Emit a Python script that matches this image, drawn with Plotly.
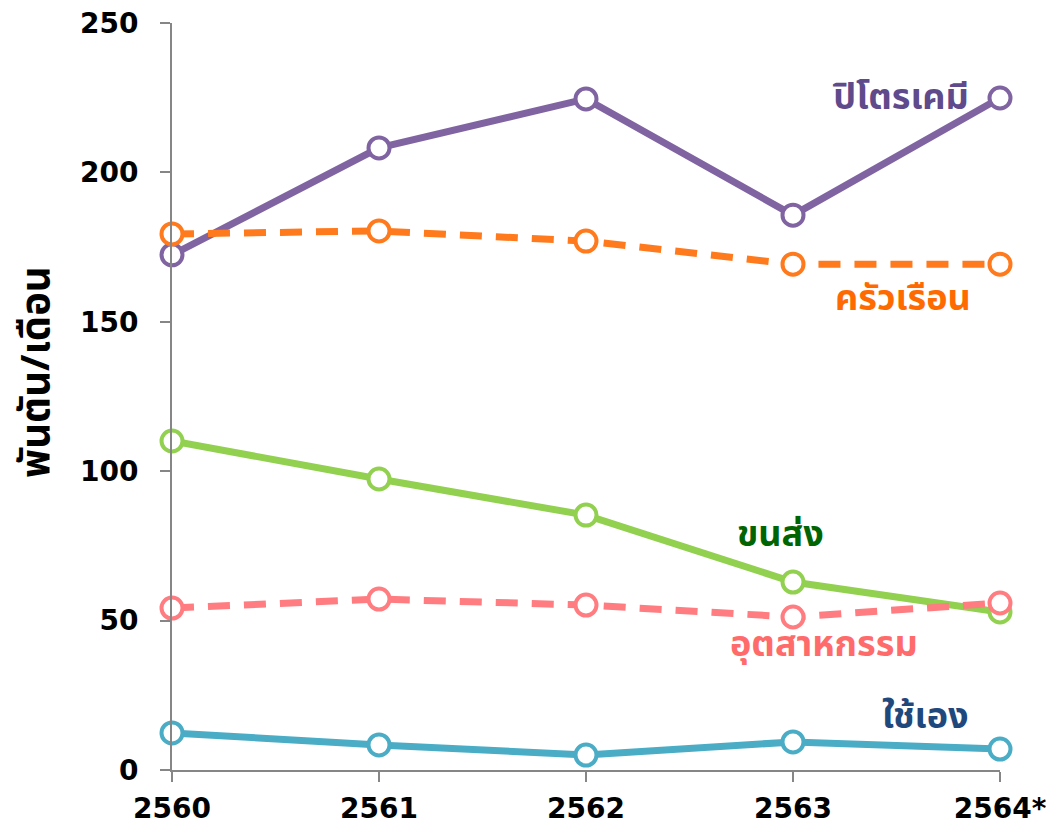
import plotly.graph_objects as go

# ปี (แกน x)
years = ["2560", "2561", "2562", "2563", "2564*"]

# ปริมาณการใช้ (พันตัน/เดือน)
petrochem = [172.4, 208.2, 224.6, 185.7, 224.9]
household = [179.4, 180.4, 177.0, 169.3, 169.3]
transport = [110.1, 97.4, 85.3, 62.9, 52.9]
industry = [54.2, 57.2, 55.2, 51.2, 55.9]
own_use = [12.4, 8.4, 5.0, 9.4, 7.0]

FONT = "Tahoma, 'DejaVu Sans', 'Noto Sans', sans-serif"
THAI_FONT = "Tahoma, 'Noto Sans Thai', 'Noto Sans', sans-serif"

series = [
    # name, values, line colour, dash
    ("ปิโตรเคมี", petrochem, "#8064A2", "solid"),
    ("ครัวเรือน", household, "#FF7A1C", "22px,14px"),
    ("ขนส่ง", transport, "#92D050", "solid"),
    ("อุตสาหกรรม", industry, "#FF7C80", "22px,14px"),
    ("ใช้เอง", own_use, "#4BACC6", "solid"),
]

fig = go.Figure()
for name, vals, color, dash in series:
    fig.add_trace(go.Scatter(
        x=years, y=vals, name=name, mode="lines+markers",
        line=dict(color=color, width=7, dash=dash),
        marker=dict(symbol="circle", size=21, color="white",
                    line=dict(color=color, width=4)),
        cliponaxis=False,
    ))

# ป้ายชื่อแต่ละเส้น
labels = [
    ("ปิโตรเคมี", 3.52, 224.9, "#5F4A8B"),
    ("ครัวเรือน", 3.53, 157.5, "#FF6A00"),
    ("ขนส่ง", 2.94, 78.6, "#006400"),
    ("อุตสาหกรรม", 3.15, 41.8, "#FF6B6B"),
    ("ใช้เอง", 3.64, 17.7, "#1F497D"),
]
for text, lx, ly, col in labels:
    fig.add_annotation(x=lx, y=ly, text="<b>" + text + "</b>", showarrow=False,
                       font=dict(family=THAI_FONT, size=36, color=col))

# ชื่อแกน y (ใช้ annotation เพื่อวางตำแหน่งได้ตรง)
fig.add_annotation(xref="paper", yref="paper", x=-0.163, y=0.533,
                   xanchor="center", yanchor="middle",
                   text="<b>พันตัน/เดือน</b>", textangle=-90, showarrow=False,
                   font=dict(family=THAI_FONT, size=40, color="black"))

# หน้า html มี margin 8px จาก body จึงลดขนาดรูปลง
fig.update_layout(
    width=1046, height=820,
    margin=dict(l=164, r=54, t=15, b=58, autoexpand=False),
    paper_bgcolor="white", plot_bgcolor="white",
    showlegend=False,
    font=dict(family=FONT, size=28, color="black"),
)
fig.update_xaxes(
    type="category", range=[0, 4], automargin=False,
    showline=True, linecolor="#868686", linewidth=2,
    ticks="outside", ticklen=10, tickcolor="#868686", tickwidth=2,
    showgrid=False, zeroline=False, ticklabelstandoff=2,
    ticklabeloverflow="allow",
    tickfont=dict(family=FONT, size=28, color="black", weight="bold"),
)
fig.update_yaxes(
    range=[0, 250], dtick=50, automargin=False,
    showline=True, linecolor="#868686", linewidth=2,
    ticks="outside", ticklen=10, tickcolor="#868686", tickwidth=2,
    showgrid=False, zeroline=False, ticklabelstandoff=16,
    ticklabeloverflow="allow",
    tickfont=dict(family=FONT, size=28, color="black", weight="bold"),
)

fig.write_html("out.html")
